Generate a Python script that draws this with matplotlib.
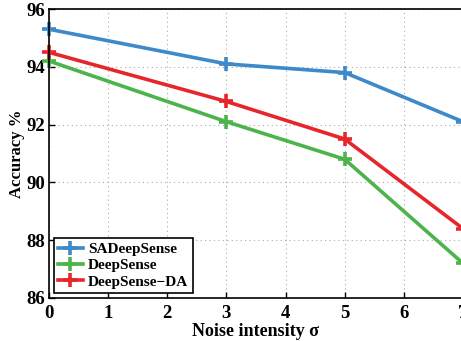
import matplotlib
matplotlib.use("Agg")
import matplotlib.pyplot as plt

x = [0, 3, 5, 7]
sadeepsense = [95.3, 94.1, 93.8, 92.1]
deepsense = [94.2, 92.1, 90.8, 87.2]
deepsense_da = [94.5, 92.8, 91.5, 88.4]
labels = ["SADeepSense", "DeepSense", "DeepSense\u2212DA"]
colors = ["#3d89c9", "#4db34b", "#e6262b"]

plt.rcParams['font.family'] = ['Liberation Serif', 'DejaVu Serif']
plt.rcParams['font.weight'] = 'bold'

fig = plt.figure(figsize=(4.61, 3.41), dpi=100)
ax = fig.add_axes([49/461, 43/341, 414/461, 289/341])

for y, lab, c in zip([sadeepsense, deepsense, deepsense_da], labels, colors):
    ax.plot(x, y, color=c, lw=2.6, marker='+', ms=10, mew=2.6, label=lab, clip_on=False)

ax.set_xlim(0, 7)
ax.set_ylim(86, 96)
ax.set_xticks(range(0, 8))
ax.set_yticks(range(86, 97, 2))
ax.grid(True, linestyle=(0, (1, 3)), color='#aaaaaa', lw=0.8)
ax.tick_params(axis='both', direction='in', labelsize=13.5, width=1, length=4)
ax.tick_params(axis='x', pad=5)
ax.tick_params(axis='y', pad=3)
for t in ax.get_xticklabels() + ax.get_yticklabels():
    t.set_fontweight('bold')
for s in ax.spines.values():
    s.set_linewidth(1.2)
ax.set_xlabel("Noise intensity \u03c3", fontsize=13, fontweight='bold', labelpad=1)
ax.set_ylabel("Accuracy %", fontsize=12, fontweight='bold', labelpad=1)

leg = ax.legend(loc='lower left', frameon=True, fancybox=False,
                edgecolor='black', framealpha=1, borderpad=0.3, labelspacing=0.18,
                handlelength=1.6, handletextpad=0.35, borderaxespad=0.3,
                prop={'weight': 'bold', 'size': 11})
leg.get_frame().set_linewidth(1.2)

fig.savefig("out.png", dpi=100)
